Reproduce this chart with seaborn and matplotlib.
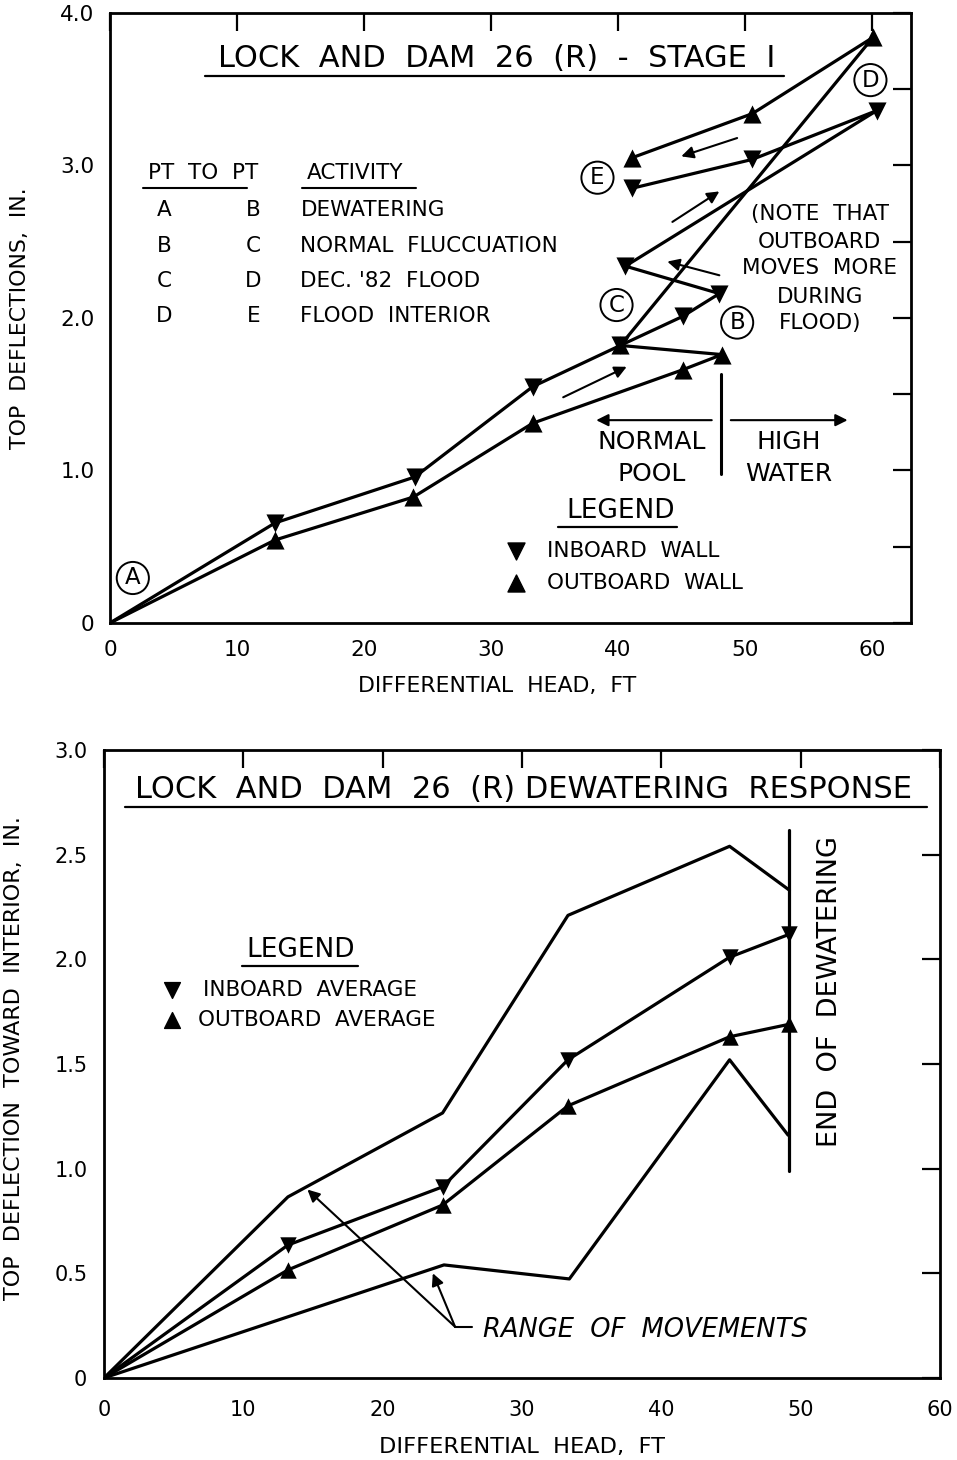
import numpy as np
import pandas as pd
import matplotlib
matplotlib.use("Agg")
import matplotlib.pyplot as plt
import seaborn as sns

# ---------------- DATA ----------------
# Top chart: Lock and Dam 26 (R) - Stage I (continuous paths A-B-C-D-E)
top_in_x = [0, 13.0, 24.0, 33.3, 40.2, 45.1, 48.0, 40.6, 60.4, 50.6, 41.1]
top_in_y = [0, 0.656, 0.957, 1.55, 1.82, 2.01, 2.16, 2.34, 3.36, 3.04, 2.85]
top_out_x = [0, 13.0, 23.9, 33.3, 45.1, 48.2, 40.2, 60.1, 50.6, 41.1]
top_out_y = [0, 0.544, 0.826, 1.31, 1.66, 1.76, 1.82, 3.84, 3.34, 3.05]

# Bottom chart: dewatering response
bot_x = [0, 13.2, 24.3, 33.3, 44.9, 49.2]
bot_in_y = [0, 0.635, 0.913, 1.52, 2.01, 2.12]
bot_out_y = [0, 0.516, 0.826, 1.30, 1.63, 1.69]
bot_hi_y = [0, 0.865, 1.266, 2.21, 2.54, 2.33]
bot_lo_x = [0, 24.4, 33.4, 44.9, 49.1]
bot_lo_y = [0, 0.54, 0.473, 1.52, 1.16]

table_rows = [("A", "B", "DEWATERING"),
              ("B", "C", "NORMAL  FLUCCUATION"),
              ("C", "D", "DEC. '82  FLOOD"),
              ("D", "E", "FLOOD  INTERIOR")]
note_lines = ["(NOTE  THAT", "OUTBOARD", "MOVES  MORE", "DURING", "FLOOD)"]

top_xticks = [0, 10, 20, 30, 40, 50, 60]
top_yticks = [0, 1, 2, 3, 4]
top_ylabels = ["0", "1.0", "2.0", "3.0", "4.0"]
bot_xticks = [0, 10, 20, 30, 40, 50, 60]
bot_yticks = [0, 0.5, 1.0, 1.5, 2.0, 2.5, 3.0]
bot_ylabels = ["0", "0.5", "1.0", "1.5", "2.0", "2.5", "3.0"]

# ---------------- STYLE ----------------
sns.set_style("white")
plt.rcParams['font.family'] = ['DejaVu Sans']
plt.rcParams['axes.linewidth'] = 2.0
plt.rcParams['text.color'] = 'black'
plt.rcParams['axes.labelcolor'] = 'black'
plt.rcParams['xtick.color'] = 'black'
plt.rcParams['ytick.color'] = 'black'
K = "black"
LW = 2.3

fig = plt.figure(figsize=(9.57, 14.6), dpi=100)
ax1 = fig.add_axes([0.1149, 0.5733, 0.8371, 0.4178])
ax2 = fig.add_axes([0.1087, 0.0562, 0.8735, 0.4301])


def style_axes(ax, pad_x, pad_y, fs):
    for s in ax.spines.values():
        s.set_visible(True)
        s.set_color(K)
        s.set_linewidth(2.0)
    ax.tick_params(which="both", direction="in", top=True, right=True,
                   length=13, width=1.6, color=K, labelsize=fs, labelcolor=K)
    ax.tick_params(axis="x", pad=pad_x)
    ax.tick_params(axis="y", pad=pad_y)


# ---------------- TOP CHART ----------------
ax = ax1
sns.lineplot(x=top_in_x, y=top_in_y, sort=False, estimator=None, color=K, lw=LW, ax=ax)
sns.lineplot(x=top_out_x, y=top_out_y, sort=False, estimator=None, color=K, lw=LW, ax=ax)
sns.scatterplot(x=top_in_x[1:], y=top_in_y[1:], marker="v", s=170, color=K,
                edgecolor=K, linewidth=0, ax=ax, zorder=5)
sns.scatterplot(x=top_out_x[1:], y=top_out_y[1:], marker="^", s=170, color=K,
                edgecolor=K, linewidth=0, ax=ax, zorder=5)
ax.set_xlim(0, 63.1)
ax.set_ylim(0, 4.0)
ax.set_xticks(top_xticks)
ax.set_xticklabels([str(t) for t in top_xticks])
ax.set_yticks(top_yticks)
ax.set_yticklabels(top_ylabels)
ax.set_yticks(np.arange(0.5, 4.0, 1.0), minor=True)
style_axes(ax, 12, 11, 15.5)
ax.set_xlabel("DIFFERENTIAL  HEAD,  FT", fontsize=15.8)
ax.set_ylabel("TOP  DEFLECTIONS,  IN.", fontsize=15.8)
ax.xaxis.set_label_coords(0.483, -0.103)
ax.xaxis.label.set_va("center")
ax.yaxis.set_label_coords(-0.112, 0.5)
ax.yaxis.label.set_va("center")

ax.text(30.5, 3.70, "LOCK  AND  DAM  26  (R)  -  STAGE  I", fontsize=22,
        ha="center", va="center")
ax.plot([7.5, 53.1], [3.59, 3.59], color=K, lw=1.6)

# table
ax.text(3.0, 2.95, "PT  TO  PT", fontsize=15.5, ha="left", va="center")
ax.text(15.5, 2.95, "ACTIVITY", fontsize=15.5, ha="left", va="center")
ax.plot([2.6, 10.8], [2.85, 2.85], color=K, lw=1.5)
ax.plot([15.1, 24.1], [2.85, 2.85], color=K, lw=1.5)
for (p1, p2, act), yy in zip(table_rows, [2.71, 2.47, 2.24, 2.01]):
    ax.text(4.3, yy, p1, fontsize=15.5, ha="center", va="center")
    ax.text(11.3, yy, p2, fontsize=15.5, ha="center", va="center")
    ax.text(15.0, yy, act, fontsize=15.5, ha="left", va="center")

# circled point letters
for lab, xx, yy in [("A", 1.8, 0.295), ("E", 38.4, 2.92), ("C", 39.9, 2.085),
                    ("B", 49.4, 1.97), ("D", 59.9, 3.56)]:
    ax.text(xx, yy, lab, fontsize=16.5, ha="center", va="center",
            bbox=dict(boxstyle="circle,pad=0.2", fc="white", ec=K, lw=1.4))

# note
for ln, yy in zip(note_lines, [2.68, 2.50, 2.33, 2.14, 1.97]):
    ax.text(55.9, yy, ln, fontsize=15.5, ha="center", va="center")

# direction arrows
arr = dict(arrowstyle="-|>", color=K, lw=1.5, mutation_scale=18, shrinkA=0, shrinkB=0)
for (x0, y0, x1, y1) in [(49.4, 3.18, 45.0, 3.06), (44.3, 2.63, 48.0, 2.83),
                         (48.0, 2.28, 43.9, 2.37), (35.7, 1.48, 40.7, 1.68),
                         (47.4, 1.33, 38.3, 1.33), (48.9, 1.33, 58.1, 1.33)]:
    ax.annotate("", xy=(x1, y1), xytext=(x0, y0), arrowprops=arr)
ax.plot([48.1, 48.1], [0.98, 1.63], color=K, lw=2.2)
ax.text(42.7, 1.19, "NORMAL", fontsize=18, ha="center", va="center")
ax.text(42.7, 0.98, "POOL", fontsize=18, ha="center", va="center")
ax.text(53.5, 1.19, "HIGH", fontsize=18, ha="center", va="center")
ax.text(53.5, 0.98, "WATER", fontsize=18, ha="center", va="center")

# legend
ax.text(40.2, 0.734, "LEGEND", fontsize=19, ha="center", va="center")
ax.plot([35.3, 44.7], [0.63, 0.63], color=K, lw=1.6)
ax.scatter([32.0], [0.47], marker="v", s=150, color=K, zorder=5)
ax.scatter([32.0], [0.26], marker="^", s=150, color=K, zorder=5)
ax.text(34.4, 0.47, "INBOARD  WALL", fontsize=15.5, ha="left", va="center")
ax.text(34.4, 0.26, "OUTBOARD  WALL", fontsize=15.5, ha="left", va="center")

# ---------------- BOTTOM CHART ----------------
ax = ax2
sns.lineplot(x=bot_x, y=bot_hi_y, sort=False, estimator=None, color=K, lw=LW, ax=ax)
sns.lineplot(x=bot_lo_x, y=bot_lo_y, sort=False, estimator=None, color=K, lw=LW, ax=ax)
sns.lineplot(x=bot_x, y=bot_in_y, sort=False, estimator=None, color=K, lw=LW, ax=ax)
sns.lineplot(x=bot_x, y=bot_out_y, sort=False, estimator=None, color=K, lw=LW, ax=ax)
sns.scatterplot(x=bot_x[1:], y=bot_in_y[1:], marker="v", s=140, color=K,
                edgecolor=K, linewidth=0, ax=ax, zorder=5)
sns.scatterplot(x=bot_x[1:], y=bot_out_y[1:], marker="^", s=140, color=K,
                edgecolor=K, linewidth=0, ax=ax, zorder=5)
ax.set_xlim(0, 60)
ax.set_ylim(0, 3.0)
ax.set_xticks(bot_xticks)
ax.set_xticklabels([str(t) for t in bot_xticks])
ax.set_yticks(bot_yticks)
ax.set_yticklabels(bot_ylabels)
style_axes(ax, 16, 12, 15)
ax.set_xlabel("DIFFERENTIAL  HEAD,  FT", fontsize=16.2)
ax.set_ylabel("TOP  DEFLECTION  TOWARD  INTERIOR,  IN.", fontsize=16)
ax.xaxis.set_label_coords(0.5, -0.11)
ax.xaxis.label.set_va("center")
ax.yaxis.set_label_coords(-0.108, 0.51)
ax.yaxis.label.set_va("center")

ax.text(30.1, 2.81, "LOCK  AND  DAM  26  (R) DEWATERING  RESPONSE", fontsize=22,
        ha="center", va="center")
ax.plot([1.5, 59.1], [2.73, 2.73], color=K, lw=1.6)

ax.text(14.1, 2.045, "LEGEND", fontsize=19, ha="center", va="center")
ax.plot([9.9, 18.2], [1.97, 1.97], color=K, lw=1.6)
ax.scatter([4.9], [1.855], marker="v", s=130, color=K, zorder=5)
ax.scatter([4.9], [1.71], marker="^", s=130, color=K, zorder=5)
ax.text(7.1, 1.855, "INBOARD  AVERAGE", fontsize=15.5, ha="left", va="center")
ax.text(6.75, 1.71, "OUTBOARD  AVERAGE", fontsize=15.5, ha="left", va="center")

ax.plot([49.2, 49.2], [0.99, 2.62], color=K, lw=2.3)
ax.text(52.1, 1.845, "END  OF  DEWATERING", fontsize=19.5, rotation=90,
        ha="center", va="center")

ax.text(27.2, 0.23, "RANGE  OF  MOVEMENTS", fontsize=18.5, style="italic",
        ha="left", va="center")
ax.plot([25.2, 26.4], [0.244, 0.244], color=K, lw=1.5)
arr2 = dict(arrowstyle="-|>", color=K, lw=1.5, mutation_scale=18, shrinkA=0, shrinkB=0)
ax.annotate("", xy=(14.6, 0.90), xytext=(25.2, 0.244), arrowprops=arr2)
ax.annotate("", xy=(23.6, 0.50), xytext=(25.2, 0.244), arrowprops=arr2)

fig.savefig("out.png", dpi=100)
